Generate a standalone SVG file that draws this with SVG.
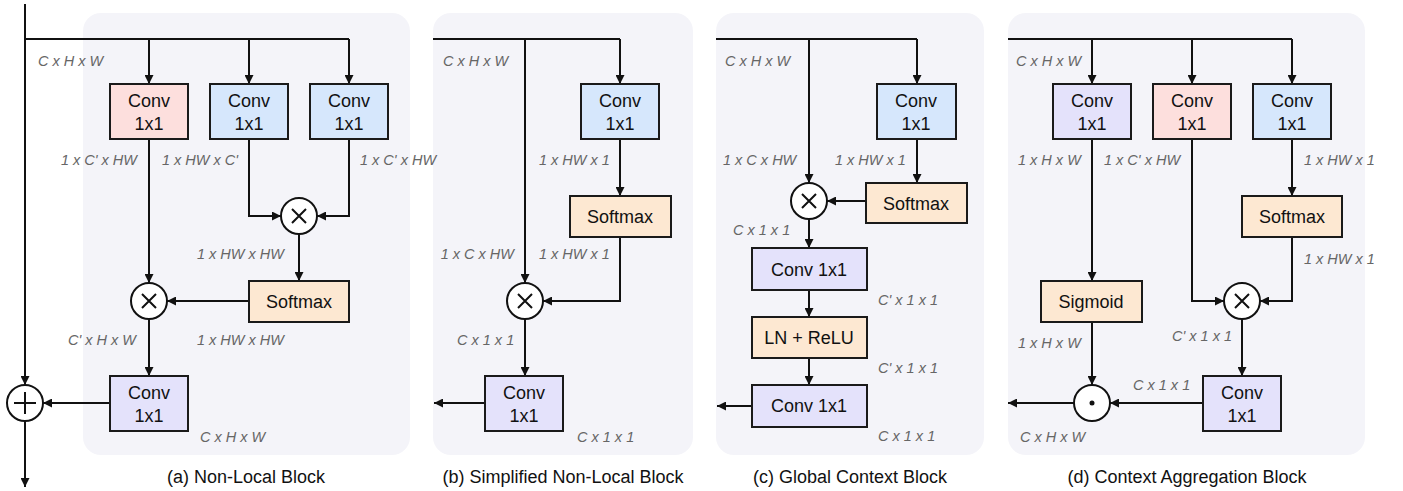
<svg xmlns="http://www.w3.org/2000/svg" width="1403" height="491" viewBox="0 0 1403 491">
  <style>
    .panel { fill: #f4f4f9; }
    .box { stroke: #1a1a1a; stroke-width: 2; }
    .pink { fill: #fddfdd; }
    .blue { fill: #d6e7fc; }
    .purple { fill: #e4e2fb; }
    .orange { fill: #fde8d2; }
    .op { fill: #ffffff; stroke: #111; stroke-width: 2; }
    .sym { stroke: #111; stroke-width: 2; fill: none; }
    .wire { fill: none; stroke: #111; stroke-width: 2; }
    .arr { marker-end: url(#head); }
    .lbl { font-family: "Liberation Sans", Arial, sans-serif; font-size: 18px; fill: #111; text-anchor: middle; }
    .dim { font-family: "Liberation Sans", Arial, sans-serif; font-size: 14.5px; font-style: italic; fill: #666; }
    .end { text-anchor: end; }
    .cap { font-family: "Liberation Sans", Arial, sans-serif; font-size: 18px; fill: #111; text-anchor: middle; }
  </style>
  <defs>
    <marker id="head" viewBox="0 0 10 10" refX="10" refY="5" markerUnits="userSpaceOnUse" markerWidth="9" markerHeight="9" orient="auto">
      <path d="M0,0 L10,5 L0,10 z" fill="#111"/>
    </marker>
  </defs>

  <!-- panel backgrounds -->
  <rect class="panel" x="83" y="13" width="327" height="442" rx="18"/>
  <rect class="panel" x="433" y="13" width="260" height="442" rx="18"/>
  <rect class="panel" x="716" y="13" width="268" height="442" rx="18"/>
  <rect class="panel" x="1008" y="13" width="357" height="442" rx="18"/>

  <!-- connectors -->
  <g id="connectors">
    <!-- (a) -->
    <path class="wire arr" d="M25,4 V385"/>
    <path class="wire arr" d="M25,421 V487"/>
    <path class="wire" d="M25,39 H349"/>
    <path class="wire arr" d="M149,39 V84"/>
    <path class="wire arr" d="M249,39 V84"/>
    <path class="wire arr" d="M349,39 V84"/>
    <path class="wire arr" d="M249,139 V216 H281"/>
    <path class="wire arr" d="M349,139 V216 H317"/>
    <path class="wire arr" d="M299,234 V281"/>
    <path class="wire arr" d="M149,139 V283"/>
    <path class="wire arr" d="M249,301 H167"/>
    <path class="wire arr" d="M149,319 V376"/>
    <path class="wire arr" d="M110,403 H43"/>
    <!-- (b) -->
    <path class="wire" d="M433,39 H620"/>
    <path class="wire arr" d="M620,39 V84"/>
    <path class="wire arr" d="M620,139 V196"/>
    <path class="wire arr" d="M620,237 V301 H543"/>
    <path class="wire arr" d="M525,39 V283"/>
    <path class="wire arr" d="M525,319 V376"/>
    <path class="wire arr" d="M485,403 H434"/>
    <!-- (c) -->
    <path class="wire" d="M716,39 H917"/>
    <path class="wire arr" d="M917,39 V84"/>
    <path class="wire arr" d="M917,139 V183"/>
    <path class="wire arr" d="M809,39 V183"/>
    <path class="wire arr" d="M866,201 H827"/>
    <path class="wire arr" d="M809,219 V248"/>
    <path class="wire arr" d="M809,290 V317"/>
    <path class="wire arr" d="M809,358 V385"/>
    <path class="wire arr" d="M752,406 H717"/>
    <!-- (d) -->
    <path class="wire" d="M1008,39 H1292"/>
    <path class="wire arr" d="M1092,39 V84"/>
    <path class="wire arr" d="M1192,39 V84"/>
    <path class="wire arr" d="M1292,39 V84"/>
    <path class="wire arr" d="M1292,139 V196"/>
    <path class="wire arr" d="M1092,139 V281"/>
    <path class="wire arr" d="M1192,139 V301 H1224"/>
    <path class="wire arr" d="M1292,237 V301 H1260"/>
    <path class="wire arr" d="M1242,319 V376"/>
    <path class="wire arr" d="M1092,322 V385"/>
    <path class="wire arr" d="M1203,403 H1110"/>
    <path class="wire arr" d="M1074,403 H1008"/>
  </g>

  <!-- (a) Non-Local Block -->
  <g id="a-conv-theta"><rect class="box pink" x="110" y="84" width="78" height="55"/><text class="lbl" x="149" y="107">Conv</text><text class="lbl" x="149" y="130">1x1</text></g>
  <g id="a-conv-phi"><rect class="box blue" x="210" y="84" width="78" height="55"/><text class="lbl" x="249" y="107">Conv</text><text class="lbl" x="249" y="130">1x1</text></g>
  <g id="a-conv-g"><rect class="box blue" x="310" y="84" width="78" height="55"/><text class="lbl" x="349" y="107">Conv</text><text class="lbl" x="349" y="130">1x1</text></g>
  <g id="a-mul-1"><circle class="op" cx="299" cy="216" r="18"/><path class="sym" d="M292,209 L306,223 M306,209 L292,223"/></g>
  <g id="a-softmax"><rect class="box orange" x="249" y="281" width="100" height="41"/><text class="lbl" x="299" y="308">Softmax</text></g>
  <g id="a-mul-2"><circle class="op" cx="149" cy="301" r="18"/><path class="sym" d="M142,294 L156,308 M156,294 L142,308"/></g>
  <g id="a-conv-out"><rect class="box purple" x="110" y="376" width="78" height="55"/><text class="lbl" x="149" y="399">Conv</text><text class="lbl" x="149" y="422">1x1</text></g>
  <g id="a-add"><circle class="op" cx="25" cy="403" r="18"/><path class="sym" d="M14,403 H36 M25,392 V414"/></g>
  <g id="a-labels">
    <text class="dim" x="38" y="66">C x H x W</text>
    <text class="dim end" x="137" y="165">1 x C' x HW</text>
    <text class="dim" x="162" y="165">1 x HW x C'</text>
    <text class="dim" x="360" y="165">1 x C' x HW</text>
    <text class="dim" x="197" y="259">1 x HW x HW</text>
    <text class="dim end" x="136" y="345">C' x H x W</text>
    <text class="dim" x="197" y="345">1 x HW x HW</text>
    <text class="dim" x="200" y="442">C x H x W</text>
    <text class="cap" x="246" y="483">(a) Non-Local Block</text>
  </g>

  <!-- (b) Simplified Non-Local Block -->
  <g id="b-conv-k"><rect class="box blue" x="581" y="84" width="78" height="55"/><text class="lbl" x="620" y="107">Conv</text><text class="lbl" x="620" y="130">1x1</text></g>
  <g id="b-softmax"><rect class="box orange" x="570" y="196" width="101" height="41"/><text class="lbl" x="620" y="223">Softmax</text></g>
  <g id="b-mul"><circle class="op" cx="525" cy="301" r="18"/><path class="sym" d="M518,294 L532,308 M532,294 L518,308"/></g>
  <g id="b-conv-out"><rect class="box purple" x="485" y="376" width="78" height="55"/><text class="lbl" x="524" y="399">Conv</text><text class="lbl" x="524" y="422">1x1</text></g>
  <g id="b-labels">
    <text class="dim" x="443" y="66">C x H x W</text>
    <text class="dim" x="539" y="165">1 x HW x 1</text>
    <text class="dim end" x="514" y="259">1 x C x HW</text>
    <text class="dim" x="539" y="259">1 x HW x 1</text>
    <text class="dim" x="457" y="345">C x 1 x 1</text>
    <text class="dim" x="577" y="442">C x 1 x 1</text>
    <text class="cap" x="563" y="483">(b) Simplified Non-Local Block</text>
  </g>

  <!-- (c) Global Context Block -->
  <g id="c-conv-k"><rect class="box blue" x="877" y="84" width="79" height="55"/><text class="lbl" x="916" y="107">Conv</text><text class="lbl" x="916" y="130">1x1</text></g>
  <g id="c-softmax"><rect class="box orange" x="866" y="183" width="101" height="40"/><text class="lbl" x="916" y="210">Softmax</text></g>
  <g id="c-mul"><circle class="op" cx="809" cy="201" r="18"/><path class="sym" d="M802,194 L816,208 M816,194 L802,208"/></g>
  <g id="c-conv-1"><rect class="box purple" x="752" y="248" width="115" height="42"/><text class="lbl" x="809" y="276">Conv 1x1</text></g>
  <g id="c-ln-relu"><rect class="box orange" x="752" y="317" width="115" height="41"/><text class="lbl" x="809" y="344">LN + ReLU</text></g>
  <g id="c-conv-2"><rect class="box purple" x="752" y="385" width="115" height="42"/><text class="lbl" x="809" y="412">Conv 1x1</text></g>
  <g id="c-labels">
    <text class="dim" x="725" y="66">C x H x W</text>
    <text class="dim" x="723" y="165">1 x C x HW</text>
    <text class="dim" x="835" y="165">1 x HW x 1</text>
    <text class="dim" x="733" y="235">C x 1 x 1</text>
    <text class="dim" x="878" y="305">C' x 1 x 1</text>
    <text class="dim" x="878" y="373">C' x 1 x 1</text>
    <text class="dim" x="878" y="441">C x 1 x 1</text>
    <text class="cap" x="850" y="483">(c) Global Context Block</text>
  </g>

  <!-- (d) Context Aggregation Block -->
  <g id="d-conv-a"><rect class="box purple" x="1053" y="84" width="78" height="55"/><text class="lbl" x="1092" y="107">Conv</text><text class="lbl" x="1092" y="130">1x1</text></g>
  <g id="d-conv-v"><rect class="box pink" x="1153" y="84" width="78" height="55"/><text class="lbl" x="1192" y="107">Conv</text><text class="lbl" x="1192" y="130">1x1</text></g>
  <g id="d-conv-k"><rect class="box blue" x="1253" y="84" width="78" height="55"/><text class="lbl" x="1292" y="107">Conv</text><text class="lbl" x="1292" y="130">1x1</text></g>
  <g id="d-softmax"><rect class="box orange" x="1242" y="196" width="100" height="41"/><text class="lbl" x="1292" y="223">Softmax</text></g>
  <g id="d-sigmoid"><rect class="box orange" x="1041" y="281" width="101" height="41"/><text class="lbl" x="1091" y="308">Sigmoid</text></g>
  <g id="d-mul"><circle class="op" cx="1242" cy="301" r="18"/><path class="sym" d="M1235,294 L1249,308 M1249,294 L1235,308"/></g>
  <g id="d-conv-out"><rect class="box purple" x="1203" y="376" width="78" height="55"/><text class="lbl" x="1242" y="399">Conv</text><text class="lbl" x="1242" y="422">1x1</text></g>
  <g id="d-dot"><circle class="op" cx="1092" cy="403" r="18"/><circle cx="1092" cy="403" r="2.5" fill="#111"/></g>
  <g id="d-labels">
    <text class="dim" x="1016" y="66">C x H x W</text>
    <text class="dim" x="1018" y="165">1 x H x W</text>
    <text class="dim" x="1104" y="165">1 x C' x HW</text>
    <text class="dim" x="1304" y="165">1 x HW x 1</text>
    <text class="dim" x="1304" y="264">1 x HW x 1</text>
    <text class="dim" x="1018" y="348">1 x H x W</text>
    <text class="dim" x="1172" y="341">C' x 1 x 1</text>
    <text class="dim" x="1133" y="390">C x 1 x 1</text>
    <text class="dim" x="1020" y="442">C x H x W</text>
    <text class="cap" x="1187" y="483">(d) Context Aggregation Block</text>
  </g>
</svg>
